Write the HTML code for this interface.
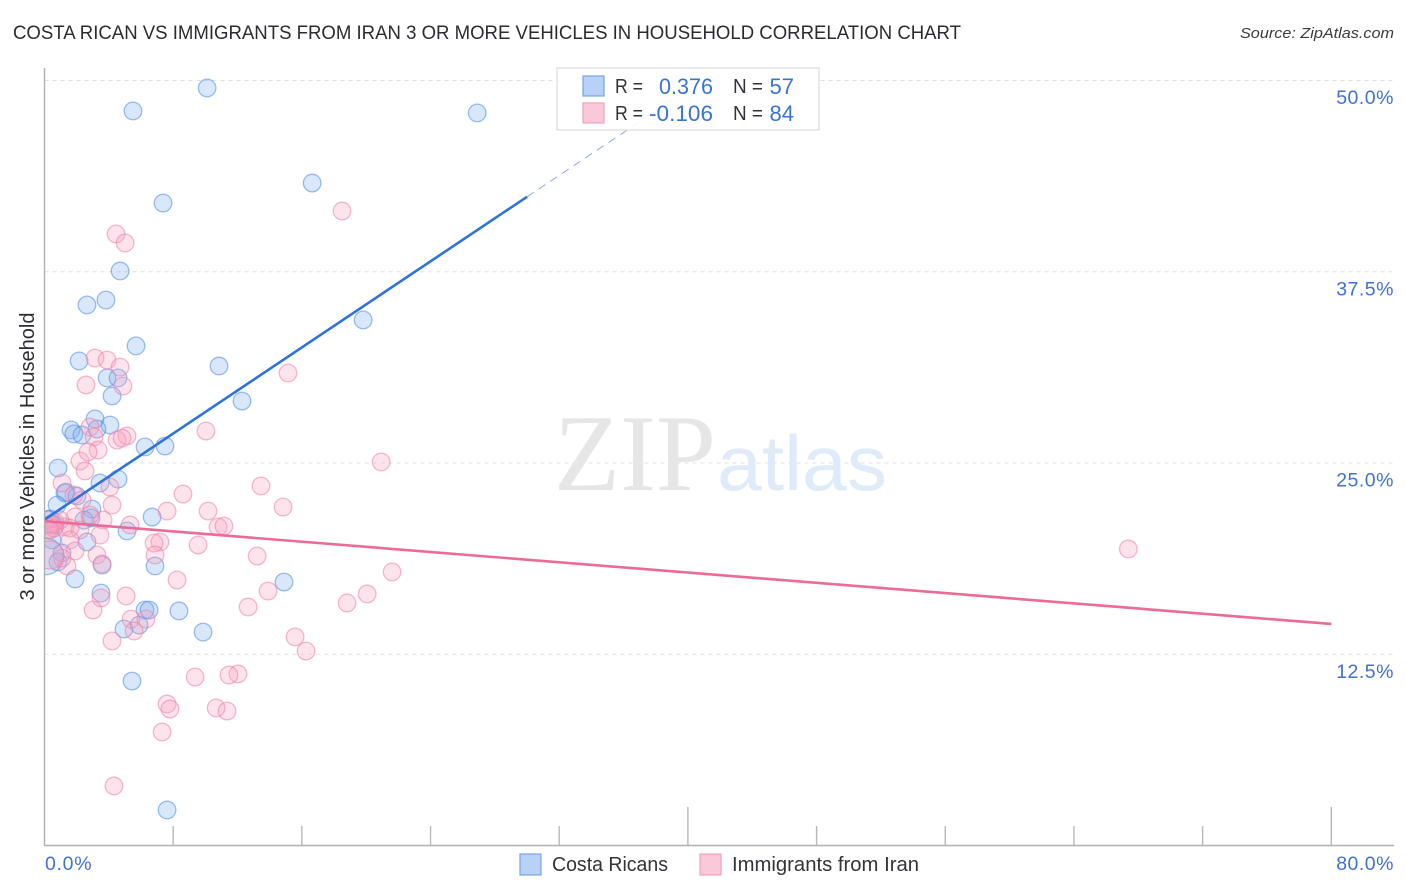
<!DOCTYPE html>
<html lang="en">
<head>
<meta charset="utf-8">
<title>Costa Rican vs Immigrants from Iran 3 or More Vehicles in Household Correlation Chart</title>
<style>
html,body{margin:0;padding:0;background:#fff;width:1406px;height:892px;overflow:hidden}
svg{display:block;font-family:"Liberation Sans",sans-serif}
</style>
</head>
<body>
<svg id="chart" width="1406" height="892" viewBox="0 0 1406 892" xmlns="http://www.w3.org/2000/svg">
  <defs><clipPath id="plot-clip"><rect x="44.5" y="60" width="1350" height="786"/></clipPath></defs>
  <text x="13" y="39" font-size="19" fill="#2b2b33" textLength="948" lengthAdjust="spacingAndGlyphs">COSTA RICAN VS IMMIGRANTS FROM IRAN 3 OR MORE VEHICLES IN HOUSEHOLD CORRELATION CHART</text>
  <text x="1394" y="38" font-size="15" font-style="italic" fill="#3a3a42" text-anchor="end" textLength="154" lengthAdjust="spacingAndGlyphs">Source: ZipAtlas.com</text>
  <g id="grid"></g>
  <g>
    <text x="554" y="490" font-family="'Liberation Serif',serif" font-size="109" fill="#e6e6e6" textLength="162" lengthAdjust="spacingAndGlyphs">ZIP</text>
    <text x="717" y="490" font-size="78" fill="#e0ebf9" textLength="170" lengthAdjust="spacingAndGlyphs">atlas</text>
  </g>
  <g id="points" clip-path="url(#plot-clip)"></g>
  <g id="trends"></g>
  <g id="axes"></g>
  <text transform="translate(34,456.5) rotate(-90)" font-size="20" fill="#2b2b33" text-anchor="middle" textLength="288" lengthAdjust="spacingAndGlyphs">3 or more Vehicles in Household</text>
  <g>
    <rect x="557" y="68" width="262" height="62" fill="#fff" fill-opacity="0.88" stroke="#dedede" stroke-width="1.3"/>
    <rect x="583" y="76" width="21" height="20" fill="#b7d2f6" stroke="#74a5e6" stroke-width="1.2"/>
    <rect x="583" y="103" width="21" height="20" fill="#fbc8da" stroke="#f0a2bd" stroke-width="1.2"/>
    <g font-size="20" fill="#33333b">
      <text x="615" y="93" textLength="28" lengthAdjust="spacingAndGlyphs">R =</text>
      <text x="615" y="120" textLength="28" lengthAdjust="spacingAndGlyphs">R =</text>
      <text x="733" y="93" textLength="30" lengthAdjust="spacingAndGlyphs">N =</text>
      <text x="733" y="120" textLength="30" lengthAdjust="spacingAndGlyphs">N =</text>
    </g>
    <g font-size="22" fill="#3a74d2">
      <text x="713" y="94" text-anchor="end" textLength="54" lengthAdjust="spacingAndGlyphs">0.376</text>
      <text x="713" y="121" text-anchor="end" textLength="64" lengthAdjust="spacingAndGlyphs">-0.106</text>
      <text x="794" y="94" text-anchor="end">57</text>
      <text x="794" y="121" text-anchor="end">84</text>
    </g>
  </g>
  <g>
    <rect x="520" y="854" width="21" height="21" fill="#b7d2f6" stroke="#74a5e6" stroke-width="1.2"/>
    <text x="552" y="871" font-size="20" fill="#33333b" textLength="116" lengthAdjust="spacingAndGlyphs">Costa Ricans</text>
    <rect x="700" y="854" width="21" height="21" fill="#fbc8da" stroke="#f0a2bd" stroke-width="1.2"/>
    <text x="732" y="871" font-size="20" fill="#33333b" textLength="187" lengthAdjust="spacingAndGlyphs">Immigrants from Iran</text>
  </g>
</svg>
<script>
const blueX = [10.11,5.50,26.90,16.64,7.37,4.70,3.82,2.64,19.81,5.69,2.15,10.85,3.89,4.57,4.20,12.28,3.14,4.07,1.65,3.26,1.83,2.33,6.25,7.49,0.84,4.57,3.45,1.27,1.34,2.02,0.78,2.95,2.89,2.46,6.69,0.34,5.13,2.64,0.47,1.09,0.84,6.87,3.58,1.90,14.89,3.51,6.25,6.50,8.36,9.86,4.94,5.88,5.44,7.62,0.65,0.20,0.03];
const blueY = [49.51,48.01,47.88,43.30,41.99,37.55,35.65,35.33,34.35,32.65,31.67,31.34,30.56,30.56,29.38,29.05,27.88,27.48,27.16,27.22,26.90,26.83,26.05,26.11,24.67,23.95,23.69,23.04,23.10,22.84,22.25,21.99,21.41,21.27,21.47,21.34,20.56,19.84,19.97,19.12,18.53,18.27,18.33,17.42,17.22,16.50,15.39,15.39,15.33,13.95,14.15,14.41,10.75,2.32,20.95,21.30,18.90];
const blueWeight = [1,1,1,1,1,1,1,1,1,1,1,1,1,1,1,1,1,1,1,1,1,1,1,1,1,1,1,1,1,1,1,1,1,1,1,1,1,1,1,1,1,1,1,1,1,1,1,1,1,1,1,1,1,1,1,1,2.1];
const pinkX = [18.50,4.45,5.01,3.14,3.89,4.70,2.58,4.88,15.14,10.04,5.13,4.51,4.82,2.83,3.08,3.33,2.21,2.71,2.52,20.93,1.09,1.83,2.33,13.46,8.61,14.83,10.17,4.20,7.62,3.64,5.32,1.90,10.79,11.16,1.27,2.21,1.59,0.34,0.65,0.96,0.22,0.59,7.18,6.81,9.55,6.87,13.22,0.47,1.59,1.90,3.26,1.40,1.09,3.58,21.61,8.24,13.90,3.51,5.07,20.06,18.81,12.66,3.02,5.38,6.31,15.58,5.57,4.20,16.26,12.03,11.47,9.36,7.62,7.80,10.67,11.35,7.31,4.32,67.38,0.34,0.34,3.45,2.83,4.07];
const pinkY = [41.47,39.97,39.38,31.86,31.73,31.27,30.10,30.03,30.88,27.09,26.77,26.50,26.63,27.35,26.70,25.85,25.13,25.72,24.48,25.07,23.69,22.91,22.58,23.50,22.97,22.12,21.86,22.25,21.86,21.27,20.95,21.47,20.82,20.88,20.82,20.62,20.75,20.95,21.14,21.27,20.62,20.75,19.84,19.77,19.64,18.99,18.92,21.01,19.97,19.25,18.99,18.27,18.79,18.40,17.88,17.35,16.63,16.18,16.31,16.44,15.85,15.59,15.39,14.80,14.80,13.63,14.02,13.37,12.71,11.21,11.14,11.01,9.25,8.92,8.99,8.79,7.42,3.89,19.38,18.99,20.62,20.29,21.60,23.43];
const pinkWeight = [1,1,1,1,1,1,1,1,1,1,1,1,1,1,1,1,1,1,1,1,1,1,1,1,1,1,1,1,1,1,1,1,1,1,1,1,1,1,1,1,1,1,1,1,1,1,1,1,1,1,1,1,1,1,1,1,1,1,1,1,1,1,1,1,1,1,1,1,1,1,1,1,1,1,1,1,1,1,1,1.6,1,1,1,1];
const blueTrendX = [0, 30];
const blueTrendY = [21.3, 42.4];
const blueTrendDashX = [30, 40];
const blueTrendDashY = [42.4, 49.4];
const pinkTrendX = [0, 80];
const pinkTrendY = [21.2, 14.48];
const yTicks = [12.5, 25, 37.5, 50];
const yTickLabels = ["12.5%", "25.0%", "37.5%", "50.0%"];
const xTicks = [8, 16, 24, 32, 40, 48, 56, 64, 72, 80];
const xMajorTicks = [40, 80];
const xEndLabels = ["0.0%", "80.0%"];

const NS = "http://www.w3.org/2000/svg";
const xScale = v => 44.5 + v * 16.085;
const yScale = v => 845.5 - v * 15.3;

function make(tag, parent, props) {
  const el = document.createElementNS(NS, tag);
  for (const k in props) el.setAttribute(k, props[k]);
  parent.appendChild(el);
  return el;
}

const grid = document.getElementById("grid");
yTicks.forEach(function (v) {
  const ln = make("line", grid, {x1: 44.5, x2: 1394, y1: yScale(v), y2: yScale(v), stroke: "#e0e0e0", "stroke-width": 1, "stroke-dasharray": "4 4"});
  
  
});

function drawSeries(xs, ys, ws, fill, stroke, name) {
  const g = document.getElementById("points");
  xs.forEach(function (x, i) {
    const c = make("circle", g, {cx: xScale(x), cy: yScale(ys[i]), r: 8.8 * ws[i], fill: fill, "fill-opacity": 0.3, stroke: stroke, "stroke-opacity": 0.55, "stroke-width": 1.3});
    
    
  });
}
drawSeries(blueX, blueY, blueWeight, "#7fb0ee", "#4f8ae0", "costa-ricans-point");
drawSeries(pinkX, pinkY, pinkWeight, "#f7a3bf", "#ee7fa4", "immigrants-from-iran-point");

const trends = document.getElementById("trends");
const blueLine = make("line", trends, {x1: xScale(blueTrendX[0]), y1: yScale(blueTrendY[0]), x2: xScale(blueTrendX[1]), y2: yScale(blueTrendY[1]), stroke: "#2e74d8", "stroke-width": 2.6});


const blueDash = make("line", trends, {x1: xScale(blueTrendDashX[0]), y1: yScale(blueTrendDashY[0]), x2: xScale(blueTrendDashX[1]), y2: yScale(blueTrendDashY[1]), stroke: "#5c7fd0", "stroke-width": 0.9, "stroke-opacity": 0.75, "stroke-dasharray": "8 6"});


const pinkLine = make("line", trends, {x1: xScale(pinkTrendX[0]), y1: yScale(pinkTrendY[0]), x2: xScale(pinkTrendX[1]), y2: yScale(pinkTrendY[1]), stroke: "#ec6a98", "stroke-width": 2.6});



const axes = document.getElementById("axes");
const yAxis = make("line", axes, {x1: 44.5, x2: 44.5, y1: 68, y2: 846, stroke: "#b0b0b0", "stroke-width": 1.4});


const xAxis = make("line", axes, {x1: 44, x2: 1394, y1: 845.5, y2: 845.5, stroke: "#b0b0b0", "stroke-width": 1.4});


xTicks.forEach(function (v) {
  const top = xMajorTicks.indexOf(v) >= 0 ? 807 : 826;
  const t = make("line", axes, {x1: xScale(v), x2: xScale(v), y1: top, y2: 845.5, stroke: "#b8b8b8", "stroke-width": 1.4});
  
  
});
yTicks.forEach(function (v, i) {
  const t = make("text", axes, {x: 1394, y: yScale(v) + 23.5, "font-size": 19.5, "letter-spacing": 0.5, fill: "#3f72d2", "text-anchor": "end"});
  t.textContent = yTickLabels[i];
  
  
});
const x0 = make("text", axes, {x: 45, y: 870, "font-size": 19.5, "letter-spacing": 0.7, fill: "#3f72d2"});
x0.textContent = xEndLabels[0];


const x1 = make("text", axes, {x: 1394, y: 870, "font-size": 19.5, "letter-spacing": 0.5, fill: "#3f72d2", "text-anchor": "end"});
x1.textContent = xEndLabels[1];


</script>
</body>
</html>
